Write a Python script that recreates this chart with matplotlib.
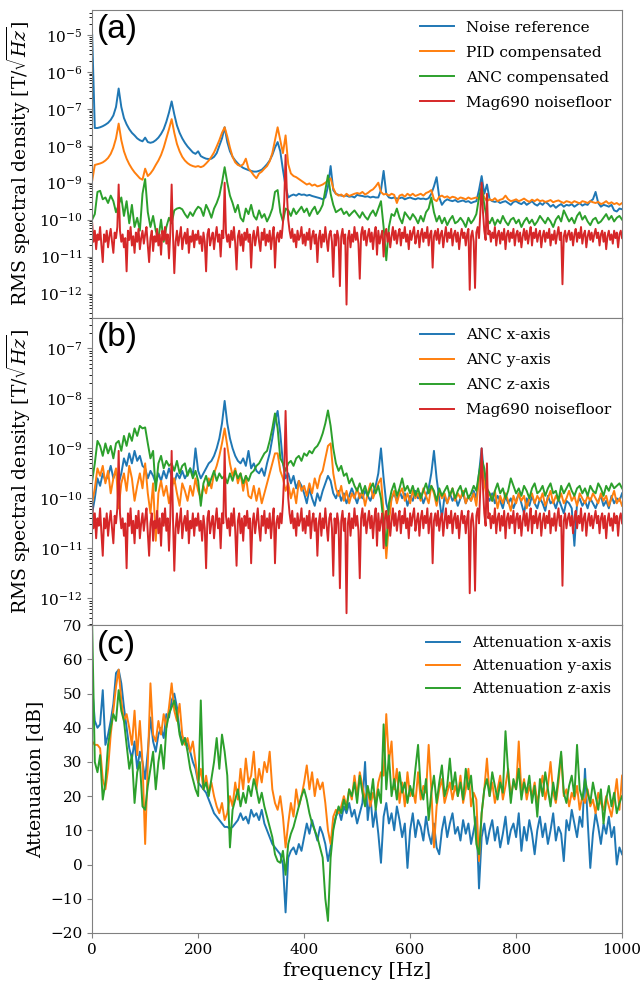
import numpy as np
import matplotlib
matplotlib.use("Agg")
import matplotlib.pyplot as plt

# ---------------- data ----------------
freq = np.arange(0, 1001, 5)          # 5 Hz grid for most spectra
freq_floor = np.arange(0, 1000.1, 2.5)  # 2.5 Hz grid for the sensor noise floor

# Panel (a): log10 of RMS spectral density [T/sqrt(Hz)]
noise_ref_log = [
 -5.0, -7.52, -7.52, -7.50, -7.47, -7.43, -7.38, -7.30, -7.18, -6.95,
 -6.45, -6.95, -7.25, -7.42, -7.55, -7.65, -7.72, -7.80, -7.85, -7.88,
 -7.78, -7.90, -7.92, -7.90, -7.85, -7.78, -7.68, -7.55, -7.35, -7.10,
 -6.80, -7.15, -7.45, -7.65, -7.80, -7.92, -8.02, -8.10, -8.18, -8.22,
 -8.15, -8.28, -8.32, -8.35, -8.36, -8.35, -8.30, -8.20, -8.00, -7.80,
 -7.50, -7.90, -8.15, -8.30, -8.40, -8.48, -8.55, -8.60, -8.63, -8.66,
 -8.68, -8.70, -8.70, -8.68, -8.65, -8.58, -8.50, -8.40, -8.25, -8.05,
 -7.90, -8.15, -8.65, -9.10, -9.40, -9.35, -9.32, -9.35, -9.30, -9.33,
 -9.32, -9.35, -9.33, -9.36, -9.38, -9.40, -9.42, -9.45, -9.40, -9.10,
 -8.55, -9.20, -9.30, -9.33, -9.35, -9.36, -9.35, -9.38, -9.37, -9.40,
 -9.33, -9.35, -9.36, -9.38, -9.37, -9.40, -9.38, -9.40, -9.40, -9.20,
 -8.68, -9.30, -9.40, -9.42, -9.40, -9.43, -9.42, -9.40, -9.45, -9.42,
 -9.40, -9.43, -9.45, -9.42, -9.44, -9.43, -9.45, -9.42, -9.30, -9.10,
 -8.85, -9.40, -9.60, -9.50, -9.45, -9.48, -9.50, -9.47, -9.52, -9.50,
 -9.48, -9.52, -9.50, -9.55, -9.52, -9.50, -9.20, -8.82, -9.30, -9.05,
 -9.45, -9.50, -9.52, -9.50, -9.55, -9.52, -9.50, -9.55, -9.60, -9.52,
 -9.50, -9.55, -9.58, -9.52, -9.60, -9.55, -9.50, -9.58, -9.62, -9.55,
 -9.60, -9.52, -9.57, -9.65, -9.60, -9.68, -9.62, -9.58, -9.65, -9.60,
 -9.62, -9.58, -9.65, -9.60, -9.55, -9.62, -9.58, -9.60, -9.50, -9.45,
 -9.25, -9.55, -9.65, -9.60, -9.62, -9.65, -9.60, -9.75, -9.78, -9.70,
 -9.72]

pid_log = [
 -8.95, -8.52, -8.50, -8.48, -8.45, -8.40, -8.33, -8.22, -8.05, -7.80,
 -7.40, -7.85, -8.15, -8.35, -8.50, -8.62, -8.72, -8.80, -8.88, -8.92,
 -8.62, -8.82, -8.75, -8.65, -8.52, -8.40, -8.25, -8.05, -7.80, -7.55,
 -7.28, -7.65, -7.95, -8.15, -8.30, -8.40, -8.47, -8.52, -8.55, -8.57,
 -8.55, -8.58, -8.55, -8.48, -8.40, -8.30, -8.18, -8.02, -7.85, -7.65,
 -7.50, -7.75, -8.05, -8.30, -8.45, -8.52, -8.55, -8.50, -8.35, -8.62,
 -8.70, -8.80, -8.88, -8.75, -8.70, -8.62, -8.55, -8.42, -8.20, -7.85,
 -7.50, -7.85, -8.20, -7.72, -8.50, -8.75, -8.82, -8.85, -8.90, -8.95,
 -9.00, -9.05, -9.02, -9.08, -9.05, -9.10, -9.08, -9.05, -9.00, -8.95,
 -8.88, -9.15, -9.30, -9.35, -9.32, -9.38, -9.30, -9.36, -9.33, -9.30,
 -9.28, -9.30, -9.25, -9.32, -9.28, -9.22, -9.18, -9.10, -9.00, -9.25,
 -9.32, -9.30, -9.35, -9.30, -9.33, -9.55, -9.35, -9.32, -9.38, -9.30,
 -9.35, -9.30, -9.36, -9.33, -9.30, -9.35, -9.28, -9.25, -9.20, -9.45,
 -9.50, -9.38, -9.35, -9.40, -9.37, -9.42, -9.38, -9.40, -9.45, -9.40,
 -9.42, -9.45, -9.40, -9.44, -9.42, -9.40, -9.45, -9.20, -9.40, -9.50,
 -9.45, -9.48, -9.42, -9.50, -9.46, -9.44, -9.35, -9.45, -9.50, -9.48,
 -9.45, -9.50, -9.47, -9.43, -9.48, -9.52, -9.46, -9.50, -9.45, -9.50,
 -9.48, -9.52, -9.50, -9.47, -9.53, -9.50, -9.48, -9.52, -9.55, -9.50,
 -9.52, -9.55, -9.50, -9.53, -9.56, -9.50, -9.52, -9.55, -9.50, -9.53,
 -9.55, -9.52, -9.58, -9.55, -9.50, -9.57, -9.53, -9.58, -9.55, -9.60,
 -9.55]

anc_log = [
 -10.0, -9.85, -9.25, -9.22, -9.45, -9.40, -9.55, -9.35, -9.50, -9.80,
 -9.60, -9.40, -9.90, -9.50, -10.1, -9.60, -10.2, -9.95, -10.3, -9.30,
 -8.90, -9.80, -10.2, -9.90, -10.3, -10.5, -10.0, -10.6, -10.2, -9.95,
 -10.1, -9.75, -9.70, -9.68, -9.72, -9.85, -9.95, -9.80, -9.90, -9.75,
 -9.65, -9.70, -9.90, -9.60, -9.75, -9.95, -9.70, -9.55, -9.35, -9.00,
 -8.58, -9.00, -9.35, -9.55, -9.80, -9.60, -9.95, -10.05, -9.70, -9.85,
 -9.60, -9.90, -10.0, -9.75, -9.95, -9.85, -10.05, -9.90, -9.70, -9.25,
 -9.20, -9.80, -10.05, -9.70, -9.75, -9.90, -9.70, -9.85, -9.75, -9.65,
 -9.80, -9.70, -9.90, -9.75, -9.65, -9.85, -9.75, -9.60, -9.20, -8.80,
 -9.30, -9.60, -9.80, -9.75, -9.70, -9.85, -9.78, -9.90, -9.82, -9.75,
 -9.85, -9.95, -9.80, -9.92, -10.0, -9.85, -9.75, -9.90, -9.70, -9.50,
 -10.2, -11.1, -10.2, -9.85, -9.90, -9.70, -9.95, -10.1, -9.80, -9.90,
 -10.0, -9.85, -9.95, -10.1, -9.90, -10.05, -9.80, -9.70, -9.40, -9.80,
 -10.05, -9.90, -10.1, -9.95, -10.15, -10.0, -9.90, -10.1, -10.05, -9.95,
 -10.05, -10.2, -9.95, -10.1, -10.0, -9.85, -9.40, -9.10, -9.60, -10.0,
 -10.1, -9.95, -10.15, -10.0, -10.1, -9.90, -10.05, -10.15, -10.0, -9.95,
 -10.1, -10.0, -10.2, -10.05, -9.95, -10.1, -10.0, -10.15, -10.05, -9.90,
 -10.0, -10.1, -9.95, -10.05, -10.2, -10.0, -9.90, -10.05, -9.75, -9.90,
 -10.05, -9.95, -10.1, -9.90, -9.80, -10.0, -9.90, -10.05, -10.15, -10.0,
 -9.95, -10.1, -10.05, -9.95, -9.85, -10.0, -9.90, -10.05, -9.95, -9.90,
 -10.0]

floor_log = [
 -10.1, -10.6, -10.3, -10.8, -10.4, -10.55, -10.2, -10.7, -11.15, -10.4, -10.6, -10.3, -10.75, -10.45, -10.25, -10.6, -10.9, -10.35, -10.5, -10.2,
 -9.05, -10.3, -10.6, -10.4, -10.75, -10.5, -11.4, -10.3, -10.55, -10.2, -10.7, -10.45, -10.9, -10.35, -10.6, -10.25, -10.8, -10.5, -10.3, -10.65,
 -10.4, -10.2, -10.7, -11.15, -10.5, -10.3, -10.85, -10.45, -10.6, -10.25, -10.7, -10.4, -10.95, -10.3, -10.55, -10.2, -10.65, -10.4, -11.05, -10.35,
 -9.05, -10.4, -11.45, -10.6, -10.3, -10.7, -10.45, -10.2, -10.8, -10.5, -10.35, -10.65, -10.25, -10.9, -10.45, -10.6, -10.3, -10.75, -10.4, -10.55,
 -10.3, -10.65, -10.45, -10.85, -10.35, -10.6, -11.4, -10.4, -10.25, -10.7, -10.5, -10.35, -10.8, -10.45, -10.2, -10.6, -10.4, -11.0, -10.3, -10.5,
 -9.0, -10.35, -10.6, -10.4, -10.75, -10.3, -10.55, -10.2, -10.65, -11.35, -10.45, -10.3, -10.7, -10.4, -10.85, -10.35, -10.55, -10.25, -10.6, -10.4,
 -11.3, -10.5, -10.3, -10.7, -10.45, -10.2, -10.6, -10.85, -10.35, -10.55, -10.25, -10.7, -10.4, -10.6, -10.3, -10.8, -10.45, -10.2, -11.3, -10.5,
 -10.35, -10.6, -10.3, -10.5, -10.1, -9.5, -8.25, -9.3, -10.0, -10.3, -10.5, -10.25, -10.6, -10.4, -10.75, -10.3, -10.55, -10.45, -10.2, -10.65,
 -10.4, -10.7, -10.35, -10.55, -10.25, -10.8, -10.45, -10.3, -10.65, -10.4, -11.15, -10.5, -10.3, -10.75, -10.4, -10.6, -10.2, -10.55, -10.85, -10.4,
 -10.3, -10.6, -11.55, -10.4, -10.7, -10.3, -10.5, -11.8, -10.45, -10.25, -10.65, -10.4, -12.3, -10.5, -10.3, -10.75, -10.4, -10.6, -10.2, -10.55,
 -10.35, -10.65, -11.6, -10.4, -10.2, -10.55, -10.3, -10.7, -10.45, -10.25, -10.6, -10.35, -10.8, -10.4, -10.2, -10.95, -10.3, -10.65, -10.45, -10.3,
 -11.0, -10.4, -10.25, -10.6, -10.35, -10.75, -10.45, -10.2, -10.55, -10.3, -10.65, -10.4, -10.25, -10.7, -10.35, -10.5, -10.2, -10.6, -10.4, -10.8,
 -10.3, -10.55, -10.35, -10.2, -10.65, -10.45, -10.3, -10.75, -10.4, -10.25, -10.6, -10.35, -10.5, -10.2, -10.7, -10.4, -10.3, -11.3, -10.45, -10.3,
 -10.55, -10.25, -10.65, -10.4, -10.3, -10.75, -10.45, -10.2, -10.6, -10.35, -10.5, -10.25, -10.7, -10.4, -10.3, -10.6, -10.35, -10.8, -10.45, -10.25,
 -10.5, -10.35, -10.7, -10.4, -10.25, -11.9, -10.45, -10.3, -10.6, -11.85, -10.35, -10.2, -10.5, -9.8, -9.0, -9.8, -10.3, -10.55, -9.3, -10.4,
 -10.3, -10.6, -10.35, -10.5, -10.2, -10.7, -10.4, -10.3, -10.65, -10.35, -10.55, -10.25, -10.8, -10.4, -10.3, -10.6, -10.35, -10.5, -10.25, -10.7,
 -10.4, -10.3, -10.6, -10.35, -10.75, -10.45, -10.25, -10.55, -10.3, -10.65, -10.4, -10.2, -10.7, -10.35, -10.5, -10.25, -10.6, -10.4, -10.3, -10.75,
 -10.45, -10.3, -10.6, -10.35, -10.5, -10.25, -10.7, -10.4, -10.55, -10.3, -10.65, -10.4, -10.2, -10.55, -10.35, -11.75, -10.45, -10.3, -10.6, -10.4,
 -10.3, -10.55, -10.35, -10.7, -10.4, -10.25, -10.6, -10.35, -10.5, -10.2, -10.65, -10.4, -10.3, -10.75, -10.45, -10.3, -10.55, -10.35, -10.6, -10.4,
 -10.25, -10.5, -10.35, -10.7, -10.4, -10.3, -10.6, -10.35, -10.8, -10.45, -10.3, -10.55, -10.4, -10.65, -10.3, -10.5, -10.35, -10.75, -10.4, -10.3,
 -10.5]

# Panel (b): log10 of RMS spectral density per ANC axis
anc_x_log = [
 -10.3, -10.0, -9.6, -9.75, -9.5, -9.65, -9.55, -9.35, -9.6, -9.45,
 -9.7, -9.5, -9.2, -9.35, -9.1, -9.3, -9.05, -9.25, -9.15, -9.35,
 -9.4, -9.6, -9.45, -9.55, -9.7, -9.5, -9.65, -9.45, -9.6, -9.4,
 -9.55, -9.7, -9.5, -9.6, -9.45, -9.6, -9.5, -9.4, -9.55, -9.0,
 -9.45, -9.6, -9.5, -9.4, -9.3, -9.25, -9.15, -9.0, -8.8, -8.5,
 -8.05, -8.5, -8.8, -9.0, -9.15, -9.25, -9.3, -9.2, -9.35, -9.05,
 -9.4, -9.3, -9.45, -9.5, -9.4, -9.55, -9.3, -9.1, -8.8, -8.45,
 -8.25, -8.7, -9.3, -9.6, -9.5, -9.7, -9.55, -9.8, -9.65, -9.75,
 -9.9, -10.1, -9.8, -10.0, -10.15, -9.9, -10.05, -9.85, -9.7, -9.55,
 -9.65, -9.9, -10.0, -9.85, -10.05, -9.9, -10.1, -9.95, -9.8, -9.95,
 -10.1, -9.9, -10.0, -9.85, -9.95, -10.05, -9.9, -9.75, -9.5, -9.0,
 -9.6, -10.1, -10.3, -10.0, -9.9, -10.05, -9.85, -10.0, -9.9, -10.15,
 -9.95, -10.05, -9.85, -10.0, -9.9, -10.1, -9.95, -9.8, -9.5, -9.05,
 -9.6, -10.0, -10.4, -9.95, -10.1, -9.9, -10.05, -9.95, -10.15, -10.0,
 -9.9, -10.1, -9.95, -10.05, -9.85, -10.0, -9.5, -9.0, -9.6, -9.95,
 -10.05, -9.9, -10.1, -9.95, -10.05, -10.2, -9.95, -10.1, -10.0, -10.2,
 -10.05, -9.9, -10.1, -10.3, -10.0, -10.15, -9.95, -10.1, -10.2, -10.0,
 -10.1, -10.25, -9.95, -10.1, -10.05, -10.2, -10.0, -10.15, -10.3, -10.05,
 -10.1, -10.2, -10.95, -10.1, -10.0, -10.15, -10.05, -10.2, -10.0, -10.1,
 -10.2, -10.05, -9.95, -10.15, -10.05, -10.2, -9.95, -10.1, -10.0, -10.05,
 -9.9]

anc_y_log = [
 -10.1, -9.8, -9.4, -9.55, -9.35, -9.7, -9.45, -9.9, -9.6, -9.4,
 -10.2, -9.7, -9.5, -9.85, -9.35, -9.6, -10.05, -9.75, -9.5, -9.8,
 -9.3, -9.9, -10.3, -9.7, -10.85, -9.9, -9.65, -9.95, -9.75, -10.1,
 -9.8, -9.6, -9.9, -10.15, -9.7, -9.85, -10.05, -9.75, -9.95, -9.6,
 -9.85, -10.0, -9.75, -9.9, -9.6, -9.8, -9.5, -9.35, -9.15, -8.9,
 -8.6, -8.95, -9.3, -9.55, -9.4, -9.7, -9.5, -9.85, -9.55, -9.95,
 -10.0, -9.75, -10.05, -9.8, -10.1, -9.9, -9.7, -9.5, -9.3, -9.1,
 -9.1, -9.45, -9.6, -9.85, -9.7, -10.0, -9.8, -10.1, -9.65, -9.85,
 -9.75, -9.95, -9.7, -9.9, -9.6, -9.8, -9.55, -9.45, -9.2, -8.95,
 -8.9, -9.5, -9.8, -9.95, -9.75, -10.05, -9.85, -10.1, -9.9, -10.0,
 -9.8, -10.0, -9.85, -10.15, -9.9, -9.7, -10.0, -9.85, -9.7, -9.6,
 -10.3, -11.2, -10.5, -10.0, -9.85, -10.1, -9.9, -9.8, -10.05, -9.9,
 -10.1, -9.85, -10.0, -9.9, -10.05, -9.8, -9.95, -10.1, -9.75, -9.9,
 -10.15, -9.85, -10.0, -9.9, -10.1, -9.95, -9.8, -10.05, -9.9, -10.0,
 -9.85, -10.1, -9.95, -10.05, -9.9, -10.15, -9.6, -9.3, -9.7, -10.0,
 -9.9, -10.05, -9.85, -10.2, -9.95, -10.1, -9.9, -10.05, -10.25, -9.95,
 -10.1, -9.9, -10.05, -9.95, -10.2, -10.0, -9.9, -10.1, -9.95, -10.05,
 -9.9, -10.15, -10.0, -9.85, -10.1, -9.95, -10.05, -9.9, -10.1, -10.0,
 -9.85, -10.05, -9.95, -10.15, -9.9, -10.0, -10.1, -9.95, -10.05, -9.9,
 -10.0, -10.1, -9.9, -10.05, -9.95, -10.15, -10.0, -9.85, -10.1, -10.0,
 -10.15]

anc_z_log = [
 -9.65, -9.3, -8.85, -8.95, -9.15, -8.9, -9.1, -8.95, -9.2, -8.9,
 -8.85, -9.05, -8.75, -8.95, -8.7, -8.85, -8.6, -8.75, -8.55, -8.6,
 -8.58, -8.9, -9.2, -9.05, -9.85, -9.3, -9.15, -9.4, -9.25, -9.35,
 -9.3, -9.45, -9.25, -9.5, -9.35, -9.3, -9.55, -9.4, -9.6, -9.45,
 -9.65, -10.15, -9.7, -9.55, -9.75, -9.6, -9.45, -9.65, -9.5, -9.6,
 -9.55, -9.7, -9.5, -9.65, -9.45, -9.6, -9.5, -9.7, -9.55, -9.65,
 -9.5, -9.45, -9.35, -9.3, -9.2, -9.1, -9.05, -8.85, -8.6, -8.3,
 -8.6, -9.2, -9.3, -9.45, -9.3, -9.25, -9.35, -9.2, -9.15, -9.25,
 -9.1, -9.15, -9.05, -9.1, -9.0, -8.95, -8.85, -8.7, -8.5, -8.24,
 -8.55, -9.0, -9.3, -9.45, -9.35, -9.55, -9.5, -9.7, -9.6, -9.75,
 -9.85, -9.7, -9.9, -9.75, -9.95, -9.8, -9.7, -9.9, -9.75, -10.0,
 -10.5, -10.95, -10.1, -9.85, -9.7, -9.95, -9.8, -9.6, -9.85, -9.75,
 -9.9, -9.75, -9.95, -9.8, -10.0, -9.85, -9.7, -9.9, -9.75, -9.85,
 -10.05, -9.8, -9.95, -9.85, -9.75, -9.95, -9.8, -10.0, -9.85, -9.75,
 -9.95, -9.8, -10.0, -9.9, -9.75, -9.85, -9.5, -9.2, -9.4, -9.8,
 -9.9, -10.05, -9.85, -9.7, -9.9, -9.8, -10.0, -9.85, -9.6, -9.75,
 -9.9, -9.8, -9.95, -9.75, -9.85, -10.0, -9.8, -9.7, -9.9, -9.85,
 -9.75, -9.95, -9.8, -9.7, -9.9, -9.85, -10.05, -9.75, -9.9, -9.8,
 -9.7, -9.85, -9.95, -9.8, -9.75, -9.9, -9.8, -9.95, -9.75, -9.85,
 -9.9, -9.7, -9.8, -9.95, -9.75, -9.85, -9.7, -9.8, -9.75, -9.7,
 -9.8]

# Panel (c): attenuation [dB]
att_x = [
 52, 42, 40, 41, 51, 35, 38, 42, 47, 56,
 57, 53, 46, 40, 34, 31, 36, 28, 33, 30,
 25, 33, 43, 36, 33, 38, 40, 37, 44, 43,
 48, 50, 46, 39, 36, 37, 35, 33, 30, 28,
 24, 23, 22, 21, 19, 17, 15, 14, 13, 12,
 11, 11, 10.5, 11, 12, 13, 15, 13, 14, 12,
 16, 14, 15, 13, 16, 12, 10, 8, 6, 5,
 4, 3, 0, -14, 2, 4, 5, 3, 6, 4,
 8, 12, 9, 13, 10, 7, 11, 9, 6, 1,
 5, 11, 14, 16, 13, 17, 15, 18, 14, 16,
 12, 15, 18, 30, 13, 20, 11, 16, 9, 0.5,
 14, 18, 12, 15, 10, 17, 13, 8, 12, -1,
 10, 15, 8, 13, 11, 7, 14, 9, 6, 12,
 5, 3, 10, 14, 8, 12, 15, 9, 11, 7,
 13, 9, 12, 6, 10, 14, -7, 8, 12, 6,
 10, 13, 7, 11, 5, 9, 14, 6, 10, 12,
 8, 15, 4, 11, 7, 13, 9, 3, 10, 14,
 8, 12, 6, 10, 15, 7, 11, 9, 1, 13,
 10, 16, 12, 8, 14, 11, 28, 13, -1, 9,
 15, 11, 6, 12, 9, 14, 8, 11, 0, 5,
 3]

att_y = [
 36, 35, 35, 34, 25, 22, 28, 38, 45, 52,
 57, 48, 42, 44, 40, 35, 45, 32, 42, 30,
 6, 30, 53, 38, 36, 42, 38, 44, 40, 46,
 53, 45, 42, 47, 38, 35, 37, 33, 36, 30,
 24, 28, 22, 26, 21, 24, 20, 17, 15, 18,
 13, 15, 20, 17, 24, 19, 28, 22, 31, 24,
 26, 33, 22, 28, 24, 30, 27, 33, 22, 18,
 16, 20, 14, 5, 12, 18, 14, 22, 17, 20,
 24, 29, 22, 27, 20, 25, 22, 24, 18, 10,
 6, 14, 16, 15, 17, 20, 17, 22, 19, 26,
 20, 27, 23, 19, 22, 17, 21, 18, 24, 27,
 26, 44, 30, 36, 22, 28, 18, 24, 17, 27,
 20, 22, 18, 27, 19, 23, 21, 35, 22, 5,
 17, 22, 25, 18, 21, 24, 19, 23, 20, 26,
 18, 22, 28, 17, 21, 19, 1, 15, 22, 31,
 20, 24, 18, 22, 26, 19, 23, 28, 20, 24,
 22, 36, 21, 25, 19, 23, 20, 24, 18, 22,
 26, 19, 23, 30, 21, 18, 24, 32, 20, 22,
 17, 21, 19, 23, 16, 20, 18, 22, 17, 19,
 15, 21, 18, 16, 20, 17, 14, 19, 25, 16,
 26]

att_z = [
 70, 30, 27, 32, 19, 24, 35, 40, 44, 42,
 51, 45, 42, 35, 28, 32, 18, 27, 30, 17,
 16, 23, 28, 33, 22, 30, 35, 28, 40, 44,
 46, 48, 44, 38, 35, 37, 33, 28, 25, 22,
 20, 48, 22, 24, 20, 25, 30, 37, 28, 38,
 33, 26, 5, 16, 19, 22, 17, 21, 18, 23,
 20, 25, 22, 18, 21, 17, 14, 11, 8, 3,
 1, 0.5, 4, -3, 6, 9, 11, 14, 17, 20,
 22, 19, 15, 12, 10, 8, 5, 2, -10, -16.5,
 2, 10, 14, 17, 15, 19, 16, 22, 20, 24,
 18, 26, 21, 17, 23, 19, 25, 16, 22, 18,
 41, 22, 32, 20, 25, 19, 27, 21, 24, 18,
 23, 20, 28, 35, 22, 19, 25, 13, 21, 26,
 18, 24, 29, 20, 23, 31, 22, 27, 20, 24,
 19, 28, 22, 26, 17, 6, 3, 15, 22, 25,
 20, 27, 23, 19, 24, 21, 39, 27, 18, 25,
 22, 28, 19, 24, 21, 26, 18, 23, 14, 25,
 20, 27, 22, 17, 24, 19, 26, 33, 21, 18,
 23, 26, 20, 35, 22, 19, 25, 21, 18, 24,
 20, 16, 22, 12, 19, 23, 17, 21, 15, 18,
 20]

legend_a = ["Noise reference", "PID compensated", "ANC compensated", "Mag690 noisefloor"]
legend_b = ["ANC x-axis", "ANC y-axis", "ANC z-axis", "Mag690 noisefloor"]
legend_c = ["Attenuation x-axis", "Attenuation y-axis", "Attenuation z-axis"]

# ---------------- style ----------------
plt.rcParams["font.family"] = ["DejaVu Serif"]
plt.rcParams["mathtext.fontset"] = "dejavuserif"
C = ["#1f77b4", "#ff7f0e", "#2ca02c", "#d62728"]
LW = 1.4
SPINE = "0.5"

fig = plt.figure(figsize=(6.4, 9.82), dpi=100)
L, R = 0.144, 0.972
top, bot = 0.990, 0.050
h = (top - bot) / 3
axa = fig.add_axes([L, top - h, R - L, h])
axb = fig.add_axes([L, top - 2 * h, R - L, h], sharex=axa)
axc = fig.add_axes([L, bot, R - L, h], sharex=axa)

def p10(a):
    return 10.0 ** np.asarray(a, dtype=float)

axa.plot(freq, p10(noise_ref_log), color=C[0], lw=LW, label=legend_a[0])
axa.plot(freq, p10(pid_log), color=C[1], lw=LW, label=legend_a[1])
axa.plot(freq, p10(anc_log), color=C[2], lw=LW, label=legend_a[2])
axa.plot(freq_floor, p10(floor_log), color=C[3], lw=LW, label=legend_a[3])
axa.set_yscale("log")
axa.set_ylim(10 ** -12.65, 10 ** -4.32)

axb.plot(freq, p10(anc_x_log), color=C[0], lw=LW, label=legend_b[0])
axb.plot(freq, p10(anc_y_log), color=C[1], lw=LW, label=legend_b[1])
axb.plot(freq, p10(anc_z_log), color=C[2], lw=LW, label=legend_b[2])
axb.plot(freq_floor, p10(floor_log), color=C[3], lw=LW, label=legend_b[3])
axb.set_yscale("log")
axb.set_ylim(10 ** -12.54, 10 ** -6.38)

axc.plot(freq, att_x, color=C[0], lw=LW, label=legend_c[0])
axc.plot(freq, att_y, color=C[1], lw=LW, label=legend_c[1])
axc.plot(freq, att_z, color=C[2], lw=LW, label=legend_c[2])
axc.set_ylim(-20, 70)
axc.set_yticks(np.arange(-20, 71, 10))

axc.set_xlim(0, 1000)
axc.set_xticks([0, 200, 400, 600, 800, 1000])
axc.set_xlabel("frequency [Hz]", fontsize=14)

ylab = r"RMS spectral density [T/$\sqrt{Hz}$]"
axa.set_ylabel(ylab, fontsize=13.5)
axb.set_ylabel(ylab, fontsize=13.5)
axc.set_ylabel("Attenuation [dB]", fontsize=13.5)

spacing = {"a": 0.72, "b": 0.72, "c": 0.6}
for ax, lab in zip([axa, axb, axc], ["a", "b", "c"]):
    for s in ax.spines.values():
        s.set_color(SPINE)
    ax.tick_params(labelsize=11, color=SPINE)
    ax.text(0.008, 0.985, "(" + lab + ")", transform=ax.transAxes, va="top",
            ha="left", fontsize=24, family=["Liberation Sans", "DejaVu Sans"])
    ax.legend(loc="upper right", frameon=False, fontsize=11, handlelength=2.2,
              borderaxespad=0.3, labelspacing=spacing[lab])

for ax in [axa, axb]:
    ax.tick_params(labelbottom=False)

fig.savefig("out.png", dpi=100)
